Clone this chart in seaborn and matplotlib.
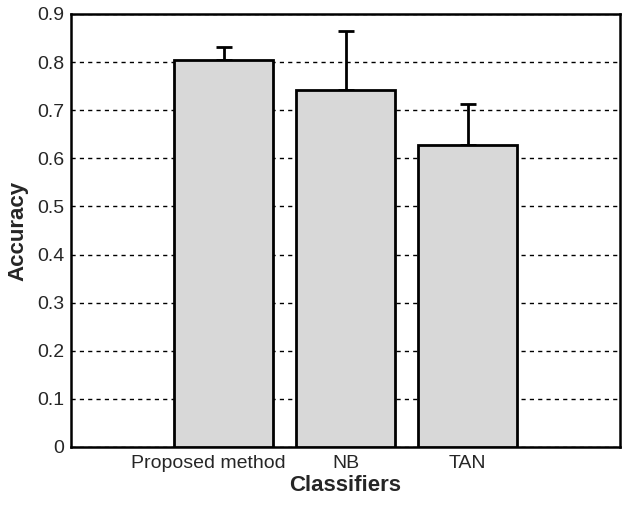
import numpy as np
import pandas as pd
import matplotlib
matplotlib.use("Agg")
import matplotlib.pyplot as plt
import matplotlib.transforms as mtransforms
import seaborn as sns

# values
classifiers = ["Proposed method", "NB", "TAN"]
accuracy = [0.804, 0.742, 0.628]
err_upper = [0.027, 0.123, 0.084]
y_ticks = [0, 0.1, 0.2, 0.3, 0.4, 0.5, 0.6, 0.7, 0.8, 0.9]
y_ticklabels = ["0", "0.1", "0.2", "0.3", "0.4", "0.5", "0.6", "0.7", "0.8", "0.9"]

sns.set_style("white")
plt.rcParams["font.family"] = ["Liberation Sans", "DejaVu Sans"]

df = pd.DataFrame({"Classifier": classifiers, "Accuracy": accuracy})

fig = plt.figure(figsize=(6.29, 5.05), dpi=100)
ax = fig.add_axes([0.1129, 0.1149, 0.8728, 0.8574])

# error bars first so the bars hide the lower half
pos = np.arange(len(classifiers))
ax.errorbar(pos, accuracy, yerr=[np.zeros(len(err_upper)), err_upper],
            fmt="none", ecolor="black", elinewidth=2, capsize=5.5,
            capthick=2, zorder=2)

sns.barplot(data=df, x="Classifier", y="Accuracy", color="#d8d8d8",
            saturation=1, edgecolor="black", linewidth=2, width=0.81,
            ax=ax, zorder=3)

ax.set_xlim(-1.25, 3.25)
ax.set_ylim(0, 0.9)
ax.set_yticks(y_ticks)
ax.set_yticklabels(y_ticklabels)
ax.yaxis.grid(True, linestyle=(0, (3, 3)), color="black", linewidth=1)
ax.set_axisbelow(True)
ax.tick_params(axis="both", length=0, labelsize=14, labelcolor="#262626")
ax.tick_params(axis="y", pad=5)
ax.tick_params(axis="x", pad=6)

for s in ax.spines.values():
    s.set_visible(True)
    s.set_color("black")
    s.set_linewidth(1.8)

# first tick label in the reference sits a little left of its bar
lbl = ax.get_xticklabels()[0]
lbl.set_transform(lbl.get_transform() + mtransforms.ScaledTranslation(-15 / 100, 0, fig.dpi_scale_trans))

ax.set_xlabel("Classifiers", fontsize=16, fontweight="bold", labelpad=2)
ax.set_ylabel("Accuracy", fontsize=16, fontweight="bold", labelpad=6)

fig.savefig("out.png", dpi=100)
